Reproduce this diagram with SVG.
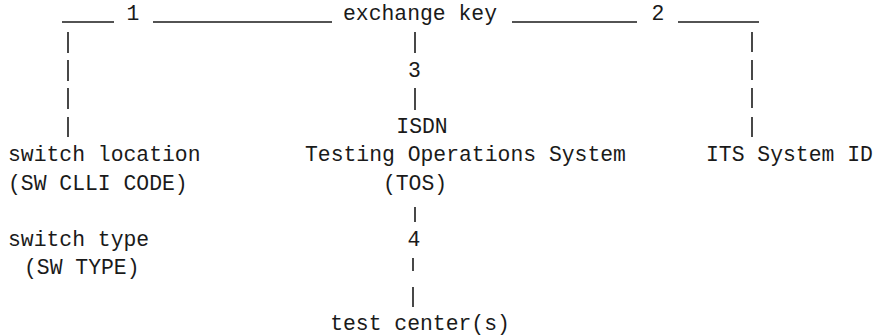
<svg xmlns="http://www.w3.org/2000/svg" width="876" height="336" viewBox="0 0 876 336">
<style>
text{font-family:"Liberation Mono","Courier New",monospace;font-size:21.4px;fill:#1a1a1a}
.m{text-anchor:middle}
.c line{stroke:#1a1a1a;stroke-width:1.6}
</style>
<rect width="876" height="336" fill="#ffffff"/>
<g id="connectors" class="c">
<line x1="62" y1="22" x2="114" y2="22"/>
<line x1="153" y1="22" x2="332" y2="22"/>
<line x1="512" y1="22" x2="637" y2="22"/>
<line x1="678" y1="22" x2="759" y2="22"/>
<line x1="68" y1="32" x2="68" y2="53"/>
<line x1="68" y1="60" x2="68" y2="81"/>
<line x1="68" y1="88" x2="68" y2="109"/>
<line x1="68" y1="117" x2="68" y2="137"/>
<line x1="752" y1="32" x2="752" y2="52"/>
<line x1="752" y1="60" x2="752" y2="80"/>
<line x1="752" y1="88" x2="752" y2="108"/>
<line x1="752" y1="117" x2="752" y2="137"/>
<line x1="415" y1="32" x2="415" y2="53"/>
<line x1="415" y1="88" x2="415" y2="110"/>
<line x1="415" y1="207" x2="415" y2="222"/>
<line x1="413" y1="258" x2="413" y2="271"/>
<line x1="413" y1="287" x2="413" y2="307"/>
<text class="m" x="133" y="20">1</text>
<text class="m" x="658" y="20">2</text>
<text class="m" x="414.5" y="77">3</text>
<text class="m" x="414" y="246">4</text>
</g>
<g id="exchange-key"><text x="343" y="20">exchange key</text></g>
<g id="switch-location"><text x="8" y="161">switch location</text><text x="8" y="190">(SW CLLI CODE)</text></g>
<g id="switch-type"><text x="8" y="246">switch type</text><text x="24" y="274">(SW TYPE)</text></g>
<g id="tos"><text class="m" x="422" y="133">ISDN</text><text x="305" y="161">Testing Operations System</text><text class="m" x="415" y="190">(TOS)</text></g>
<g id="its-system-id"><text x="706" y="161">ITS System ID</text></g>
<g id="test-centers"><text class="m" x="420" y="330">test center(s)</text></g>
</svg>
